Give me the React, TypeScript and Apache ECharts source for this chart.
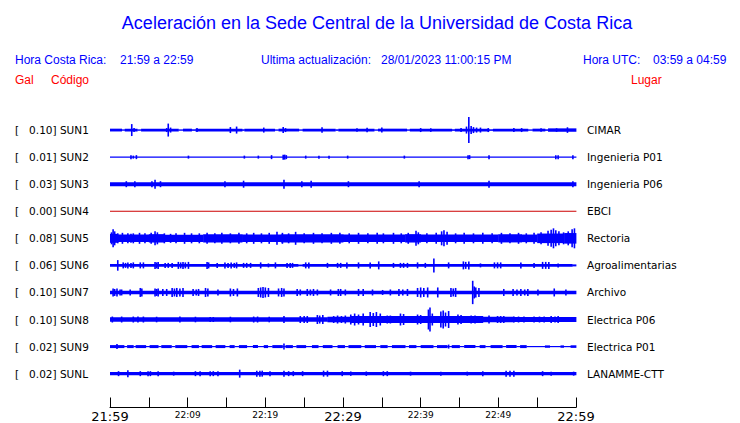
import { useEffect, useRef } from "react";
import * as echarts from "echarts";

// ---------- data ----------
const STATIONS = ["SUN1", "SUN2", "SUN3", "SUN4", "SUN5", "SUN6", "SUN7", "SUN8", "SUN9", "SUNL"];
const PEAK_GAL = ["0.10", "0.01", "0.03", "0.00", "0.08", "0.06", "0.10", "0.10", "0.02", "0.02"];
const PLACES = [
  "CIMAR", "Ingenieria P01", "Ingenieria P06", "EBCI", "Rectoria",
  "Agroalimentarias", "Archivo", "Electrica P06", "Electrica P01", "LANAMME-CTT",
];
// minutes since 21:59 (0..60), one label every 10 minutes
const TIME_LABELS = ["21:59", "22:09", "22:19", "22:29", "22:39", "22:49", "22:59"];

// Envelope breakpoints: [minute, half amplitude] (held until the next breakpoint)
// Spikes: [minute, half amplitude]
const SUN1_ENVELOPE = [[0, 1.4], [1.5, 0.7], [1.9, 1.4], [3.5, 0.7], [4.0, 1.4], [8.8, 0.7], [9.4, 1.4], [10.5, 0.8], [11.0, 1.4], [17.0, 0.8], [17.3, 1.4], [21.2, 0.7], [21.7, 1.4], [24.3, 0.7], [24.8, 1.4], [29.0, 0.8], [29.4, 1.4], [34.0, 0.7], [34.5, 1.4], [38.2, 0.7], [38.6, 1.4], [44.0, 0.8], [44.4, 1.4], [48.8, 0.8], [49.3, 1.4], [53.8, 0.7], [54.4, 1.4], [56.0, 0.8], [56.4, 1.7]];
const SUN1_SPIKES = [[2.8, 6], [3.1, 2], [7.3, 2], [7.5, 6.5], [7.8, 2.5], [11.2, 2], [15.5, 3], [16.3, 3.5], [19.8, 2.5], [22.3, 3], [22.6, 2], [27.3, 2.8], [31.8, 1.8], [33.1, 2.2], [35.0, 2.5], [40.0, 2], [41.3, 1.8], [45.2, 2], [45.9, 3.5], [46.2, 13], [46.5, 4], [46.8, 3], [47.2, 2.5], [47.7, 2.5], [48.7, 2], [52.0, 2], [53.0, 2], [55.5, 1.8], [57.5, 1.8], [58.9, 2.8]];

const SUN2_ENVELOPE = [[0, 0.6]];
const SUN2_SPIKES = [[2.7, 2], [3.0, 1.5], [3.4, 2], [10.1, 1.5], [17.3, 1.5], [19.1, 1.5], [20.8, 2], [22.3, 2.5], [22.5, 2.5], [22.7, 2], [25.2, 1.5], [26.9, 1.5], [28.2, 1.5], [30.6, 1.5], [37.9, 1.5], [46.1, 2], [46.3, 2], [48.8, 2], [57.4, 2], [57.7, 2], [59.6, 2]];

const SUN3_ENVELOPE = [[0, 2]];
const SUN3_SPIKES = [[2.1, 3], [3.2, 3], [5.4, 3], [5.8, 4.5], [6.5, 3], [14.8, 3], [17.2, 3.5], [22.4, 4.5], [24.7, 3], [25.9, 3.5], [30.7, 3], [39.8, 3], [48.8, 3.5], [59.6, 3]];

const SUN4_ENVELOPE = [[0, 0.5]];
const SUN4_SPIKES: number[][] = [];

const SUN5_ENVELOPE = [[0, 4.5], [1, 3.8], [5, 4.2], [7, 3.6], [12, 4.1], [17, 3.8], [22, 4.2], [30, 3.8], [38, 4.2], [40, 3.8], [50, 4.1], [53, 3.8], [55, 4.8], [58.5, 5.3]];
const SUN5_SPIKES = [[0.2, 6], [0.4, 9], [0.6, 7], [1.0, 5], [1.6, 5.5], [2.3, 5], [2.7, 4.5], [3.0, 5], [3.8, 5.5], [4.5, 5], [5.3, 5.5], [5.8, 7], [6.1, 6], [7.0, 5], [7.8, 4.5], [8.5, 5], [9.6, 5.5], [10.5, 5], [11.5, 5], [12.5, 5.5], [13.5, 5], [14.4, 5.5], [15.5, 5], [16.6, 5.5], [17.6, 5], [18.5, 5.5], [19.5, 5], [20.5, 5.5], [21.5, 6.5], [22.2, 5.5], [23.0, 5], [23.9, 6.5], [25.0, 5], [26.2, 5.5], [27.3, 5], [28.5, 5.5], [29.6, 5.5], [30.8, 5], [32.0, 5.5], [33.2, 5], [34.4, 5.5], [35.2, 5], [36.5, 5.5], [37.5, 5], [38.4, 5.5], [39.4, 7.5], [39.7, 6], [40.8, 5], [42.0, 5.5], [42.7, 7], [43.0, 8], [43.4, 6.5], [44.5, 5], [45.6, 5.5], [46.8, 5], [48.0, 5.5], [49.2, 5], [50.4, 5.5], [51.5, 5], [52.6, 5.5], [53.6, 5], [54.6, 5.5], [55.5, 6], [56.4, 7.5], [56.8, 8.5], [57.1, 10], [57.4, 8], [57.8, 7], [58.4, 6], [59.0, 7], [59.5, 9], [59.8, 10]];

const SUN6_ENVELOPE = [[0, 1.4], [24.2, 0.9], [24.8, 1.4], [59.5, 1.0]];
const SUN6_SPIKES = [[1.0, 5.3], [1.7, 3], [2.0, 2.5], [2.3, 3], [2.7, 2.5], [3.0, 3], [3.9, 3], [4.3, 3], [5.8, 3.5], [6.0, 3], [6.2, 3.5], [7.1, 2.5], [7.5, 2.5], [8.0, 2.5], [8.8, 3.5], [9.1, 3], [9.4, 3.5], [9.7, 3], [10.1, 3.5], [12.5, 3.5], [12.7, 3], [13.8, 2.5], [14.8, 3], [15.2, 2.5], [15.6, 3], [16.0, 2.5], [16.3, 3], [17.2, 2.5], [17.6, 2.5], [18.1, 2.5], [19.4, 3], [20.4, 2], [21.3, 3], [22.8, 2.5], [23.2, 2.5], [23.5, 2.5], [25.2, 3], [25.6, 3], [28.0, 2.5], [29.3, 2.5], [29.7, 2.5], [30.5, 3], [32.0, 3], [33.5, 3], [34.6, 4], [36.5, 2.5], [37.4, 2.5], [37.8, 2.5], [38.3, 2.5], [39.6, 3], [40.6, 2.5], [41.7, 7], [43.6, 3], [45.5, 4], [45.8, 3.5], [46.2, 4], [47.7, 2], [49.5, 3], [49.9, 3], [50.3, 3], [52.9, 3], [54.6, 2.5], [55.7, 3.5], [56.1, 3.5], [56.5, 3.5], [57.7, 2]];

const SUN7_ENVELOPE = [[0, 1.7]];
const SUN7_SPIKES = [[0.4, 4], [0.6, 3.5], [0.9, 4], [1.3, 3], [1.5, 3], [2.6, 3], [3.9, 4.5], [4.1, 4], [5.8, 4], [6.0, 3.5], [6.2, 4], [6.8, 3.5], [7.3, 3.5], [8.0, 4.5], [8.3, 4], [8.6, 4.5], [9.0, 4], [9.4, 4.5], [10.7, 3.5], [11.1, 3], [11.4, 3.5], [12.3, 4.5], [12.6, 4], [13.9, 3], [15.5, 4], [15.9, 3.5], [16.4, 4], [19.1, 4.5], [19.4, 5], [19.7, 5.5], [20.0, 5], [20.4, 4.5], [21.7, 4], [22.1, 4.5], [22.4, 4], [24.1, 3.5], [24.5, 3], [25.4, 3.5], [25.8, 3], [26.2, 3.5], [26.7, 3], [28.4, 3], [29.4, 3.5], [29.7, 3.5], [30.3, 3], [32.0, 3.5], [32.6, 3.5], [33.8, 3], [35.1, 2.5], [36.1, 3], [37.2, 3.5], [37.7, 3], [38.3, 3.5], [39.6, 4.5], [40.0, 5], [40.4, 4.5], [40.9, 5], [42.2, 5], [43.9, 4.5], [44.2, 4], [44.5, 4.5], [46.7, 11.7], [46.9, 6], [47.1, 5], [47.5, 4.5], [50.7, 3.5], [51.9, 3.5], [52.4, 3], [52.9, 3.5], [53.4, 3], [53.8, 3.5], [55.1, 3], [57.2, 4], [58.7, 3]];

const SUN8_ENVELOPE = [[0, 2.3], [28, 2.8], [31, 3.5], [48, 2.8], [52, 2.5]];
const SUN8_SPIKES = [[0.3, 3], [1.5, 3], [3.0, 3], [3.6, 3], [4.3, 3], [6.0, 2.8], [9.0, 3], [11.0, 2.8], [12.9, 2.5], [13.3, 2.5], [15.5, 2.8], [18.5, 3], [19.0, 3], [20.5, 2.8], [22.4, 3.5], [24.5, 3.5], [25.0, 3.5], [25.4, 3.5], [26.7, 4.5], [27.0, 4], [27.4, 4.5], [28.8, 3.5], [29.3, 4], [29.8, 3.5], [30.3, 4], [31.0, 5], [31.5, 6], [32.0, 5], [32.6, 6], [33.5, 7.5], [33.9, 6.5], [34.3, 7.5], [34.8, 6], [35.7, 4], [36.1, 4], [37.4, 6], [37.8, 5.5], [39.6, 5], [40.0, 4.5], [41.0, 10], [41.2, 12], [41.5, 6], [42.6, 8], [42.9, 9], [43.2, 7], [43.6, 8.5], [44.8, 5], [45.2, 4.5], [46.5, 4], [47.0, 4], [47.7, 3.5], [48.8, 4], [49.9, 3.5], [50.3, 3.5], [50.7, 3.5], [52.0, 3], [52.6, 3], [53.3, 3], [54.6, 3], [55.3, 3], [55.9, 3], [56.8, 3.5], [57.3, 3], [57.7, 3.5], [59.0, 2.5], [59.7, 2.5]];

const SUN9_ENVELOPE = [[0, 1.5], [1.8, 0.6], [2.2, 1.5], [3.0, 0.6], [3.3, 1.5], [4.6, 0.6], [5.1, 1.5], [6.2, 0.6], [6.6, 1.5], [7.9, 0.6], [8.4, 1.5], [9.9, 0.6], [10.5, 1.5], [11.4, 0.6], [11.8, 1.5], [13.1, 0.6], [13.6, 1.5], [14.8, 0.6], [15.4, 1.5], [16.0, 0.6], [16.6, 1.5], [17.6, 0.6], [18.4, 1.5], [19.0, 0.6], [19.8, 1.5], [20.3, 0.6], [20.9, 1.5], [22.2, 0.6], [22.6, 1.5], [23.5, 0.6], [24.0, 1.5], [25.2, 0.6], [26.0, 1.5], [26.8, 0.6], [27.4, 1.5], [28.6, 0.6], [29.3, 1.5], [30.2, 0.6], [30.7, 1.5], [32.3, 0.6], [32.8, 1.5], [34.2, 0.6], [34.8, 1.5], [35.7, 0.6], [36.3, 1.5], [38.0, 0.6], [38.5, 1.5], [39.4, 0.6], [40.0, 1.5], [41.6, 0.6], [42.1, 1.5], [43.4, 0.6], [44.0, 1.5], [45.0, 0.6], [45.6, 1.5], [47.0, 0.6], [47.6, 1.5], [48.3, 0.6], [49.0, 1.5], [50.5, 0.6], [51.0, 1.5], [52.3, 0.6], [52.8, 1.5], [53.6, 0.6], [56.0, 1.2], [56.6, 0.6], [58.0, 1.2], [58.4, 0.6], [59.3, 1.3]];
const SUN9_SPIKES = [[0.9, 2.5], [22.4, 3], [43.6, 2]];

const SUNL_ENVELOPE = [[0, 1.7]];
const SUNL_SPIKES = [[1.1, 2.5], [2.3, 3.5], [3.9, 2.5], [4.9, 2.5], [5.2, 2.5], [6.2, 2.5], [8.2, 2], [11.0, 2.5], [11.6, 2.5], [12.9, 2.5], [13.3, 2.5], [13.9, 2.5], [16.7, 4], [18.9, 3], [19.3, 3], [19.6, 3], [20.6, 2.5], [22.4, 3], [23.0, 2.5], [23.6, 2.5], [24.8, 2.5], [27.5, 3], [28.0, 3], [29.9, 2.5], [31.0, 2.2], [33.0, 2.2], [35.2, 2.5], [35.7, 2.5], [38.7, 2], [42.6, 2], [46.0, 2], [48.0, 2.5], [51.0, 3], [51.5, 3], [52.0, 3], [55.7, 2.5], [56.8, 2], [59.7, 2]];

const ENVELOPES = [SUN1_ENVELOPE, SUN2_ENVELOPE, SUN3_ENVELOPE, SUN4_ENVELOPE, SUN5_ENVELOPE, SUN6_ENVELOPE, SUN7_ENVELOPE, SUN8_ENVELOPE, SUN9_ENVELOPE, SUNL_ENVELOPE];
const SPIKES = [SUN1_SPIKES, SUN2_SPIKES, SUN3_SPIKES, SUN4_SPIKES, SUN5_SPIKES, SUN6_SPIKES, SUN7_SPIKES, SUN8_SPIKES, SUN9_SPIKES, SUNL_SPIKES];

// ---------- presentation ----------
const BLUE = "#0000ff";
const RED = "#ff0000";
const TRACE_COLOR = (i: number) => (STATIONS[i] === "SUN4" ? "#cc0000" : BLUE);
const ROW_PX = 27.11;
const AMP_PER_ROW = 27.11; // amplitude units per trace row
const SPAN = 60;
const SPIKE_W = 1.6;
const GRID_TOP = 103;
const GRID_BOTTOM = 15;
const Y_MAX = (423 - GRID_TOP - GRID_BOTTOM) / ROW_PX - 1;

function buildItems(env: number[][], spikes: number[][]) {
  const items: number[][] = [];
  env.forEach((bp, i) => {
    const end = i + 1 < env.length ? env[i + 1][0] : SPAN;
    items.push([bp[0], end, bp[1]]);
  });
  spikes.forEach((s) => items.push([s[0], s[0], s[1]]));
  return items;
}

function isRow(v: number) {
  const i = Math.round(v);
  return Math.abs(v - i) < 1e-6 && i >= 0 && i < STATIONS.length ? i : -1;
}

export default function App() {
  const ref = useRef<HTMLDivElement>(null);
  useEffect(() => {
    if (!ref.current) return;
    const chart = echarts.init(ref.current, null, { renderer: "svg" });
    const head = { fontFamily: "Liberation Sans", fontSize: 12 };
    const option: any = {
      animation: false,
      backgroundColor: "#ffffff",
      grid: { left: 110, right: 164, top: GRID_TOP, bottom: GRID_BOTTOM, containLabel: false },
      xAxis: {
        type: "value",
        min: 0,
        max: SPAN,
        interval: 5,
        axisLine: { show: true, onZero: false, lineStyle: { color: "#000", width: 1 } },
        axisTick: { show: true, inside: true, length: 10, lineStyle: { color: "#000", width: 1 } },
        splitLine: { show: false },
        axisLabel: {
          margin: 2,
          showMinLabel: true,
          showMaxLabel: true,
          formatter: (v: number) => {
            if (v % 10 !== 0) return "";
            const t = TIME_LABELS[v / 10];
            return v % 30 === 0 ? `{big|${t}}` : `{small|${t}}`;
          },
          rich: {
            big: { fontFamily: "DejaVu Sans", fontSize: 13, color: "#000", lineHeight: 14 },
            small: { fontFamily: "DejaVu Sans", fontSize: 9, color: "#000", lineHeight: 10 },
          },
        },
      },
      yAxis: [
        {
          type: "value",
          min: -1,
          max: Y_MAX,
          interval: 1,
          inverse: true,
          axisLine: { show: false },
          axisTick: { show: false },
          splitLine: { show: false },
          axisLabel: {
            align: "left",
            margin: 95,
            fontFamily: "DejaVu Sans",
            fontSize: 10.5,
            color: "#000",
            showMinLabel: true,
            showMaxLabel: true,
            formatter: (v: number) => {
              const i = isRow(v);
              return i < 0 ? "" : `[   ${PEAK_GAL[i]}] ${STATIONS[i]}`;
            },
          },
        },
        {
          type: "value",
          position: "right",
          min: -1,
          max: Y_MAX,
          interval: 1,
          inverse: true,
          axisLine: { show: false },
          axisTick: { show: false },
          splitLine: { show: false },
          axisLabel: {
            align: "left",
            margin: 11,
            fontFamily: "DejaVu Sans",
            fontSize: 10.5,
            color: "#000",
            formatter: (v: number) => {
              const i = isRow(v);
              return i < 0 ? "" : PLACES[i];
            },
          },
        },
      ],
      graphic: [
        {
          type: "text", x: 377, y: 23,
          style: { text: "Aceleración en la Sede Central de la Universidad de Costa Rica", fill: BLUE, fontFamily: "Liberation Sans", fontSize: 18, textAlign: "center", textVerticalAlign: "middle" },
        },
        { type: "text", x: 15, y: 60, style: { ...head, text: "Hora Costa Rica:", fill: BLUE, textVerticalAlign: "middle" } },
        { type: "text", x: 120, y: 60, style: { ...head, text: `${TIME_LABELS[0]} a ${TIME_LABELS[6]}`, fill: BLUE, textVerticalAlign: "middle" } },
        { type: "text", x: 261, y: 60, style: { ...head, text: "Ultima actualización:", fill: BLUE, textVerticalAlign: "middle" } },
        { type: "text", x: 381, y: 60, style: { ...head, text: "28/01/2023 11:00:15 PM", fill: BLUE, textVerticalAlign: "middle" } },
        { type: "text", x: 583, y: 60, style: { ...head, text: "Hora UTC:", fill: BLUE, textVerticalAlign: "middle" } },
        { type: "text", x: 653, y: 60, style: { ...head, text: "03:59 a 04:59", fill: BLUE, textVerticalAlign: "middle" } },
        { type: "text", x: 15, y: 80, style: { ...head, text: "Gal", fill: RED, textVerticalAlign: "middle" } },
        { type: "text", x: 51, y: 80, style: { ...head, text: "Código", fill: RED, textVerticalAlign: "middle" } },
        { type: "text", x: 631, y: 80, style: { ...head, text: "Lugar", fill: RED, textVerticalAlign: "middle" } },
      ],
      series: STATIONS.map((name, row) => {
        const color = TRACE_COLOR(row);
        return {
          type: "custom",
          name,
          coordinateSystem: "cartesian2d",
          xAxisIndex: 0,
          yAxisIndex: 0,
          silent: true,
          encode: { x: [0, 1] },
          data: buildItems(ENVELOPES[row], SPIKES[row]),
          renderItem: (_p: any, api: any) => {
            const t0 = api.value(0);
            const t1 = api.value(1);
            const a = api.value(2);
            const pA = api.coord([t0, row - a / AMP_PER_ROW]);
            const pB = api.coord([t1, row + a / AMP_PER_ROW]);
            const isSpike = t1 === t0;
            const x = isSpike ? pA[0] - SPIKE_W / 2 : pA[0];
            const w = isSpike ? SPIKE_W : pB[0] - pA[0] + 0.4;
            return {
              type: "rect",
              shape: { x, y: pA[1], width: w, height: pB[1] - pA[1] },
              style: { fill: color },
            };
          },
        };
      }),
    };
    chart.setOption(option);
    return () => chart.dispose();
  }, []);
  return (
    <div
      ref={ref}
      style={{ position: "fixed", left: 0, top: 0, width: 740, height: 423, background: "#fff" }}
    />
  );
}
